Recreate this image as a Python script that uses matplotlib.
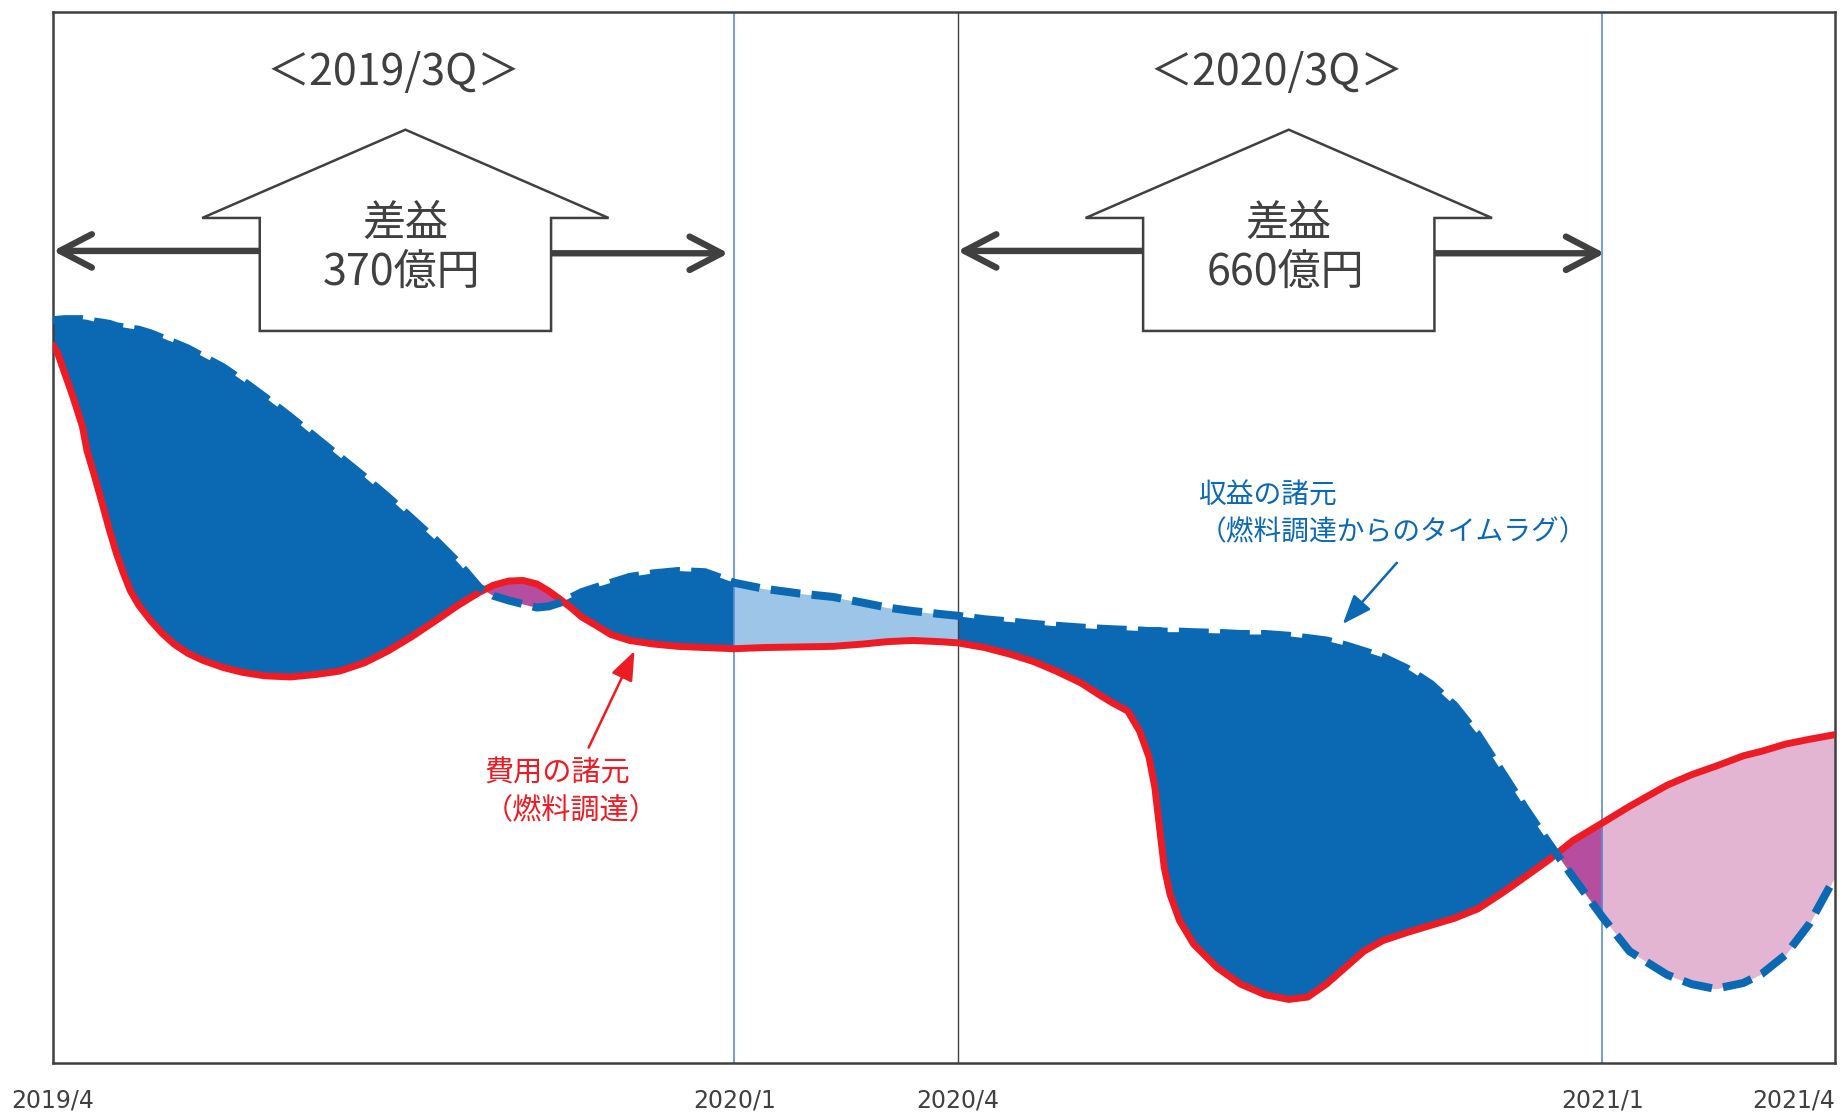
import numpy as np
import matplotlib
matplotlib.use("Agg")
import matplotlib.pyplot as plt
from matplotlib.patches import Polygon

plt.rcParams['font.family'] = ['Noto Sans CJK JP', 'DejaVu Sans']

# horizontal position along the period (left edge = 2019/4, right edge = 2021/4)
pos = np.array([45, 49, 55, 62, 70, 74, 80, 87, 93, 99, 105, 111, 118, 128, 138, 148, 160,
                173, 190, 206, 225, 247, 268, 289, 310, 330, 350, 371, 390, 408, 420,
                433, 445, 457, 467, 478, 487, 495, 507, 520, 536, 556, 577, 600, 625,
                650, 680, 709, 735, 755, 777, 800, 815, 838, 861, 880, 899, 920, 937,
                947, 960, 970, 978, 983, 987, 991, 996, 1004, 1016, 1036, 1056, 1077,
                1097, 1113, 1129, 1145, 1161, 1177, 1198, 1218, 1238, 1258, 1278, 1298,
                1319, 1339, 1364, 1387, 1419, 1440, 1460, 1484, 1500, 1520, 1540, 1562])

# cost index (fuel procurement) - red solid
cost = np.array([610, 603, 586, 566, 541, 520, 500, 475, 453, 433, 416, 401, 389, 376, 365,
                 356, 348, 342, 336, 332, 329, 328, 330, 333, 340, 350, 362, 376, 389, 400,
                 406, 409.5, 410, 407, 401, 393, 386, 379, 372, 364, 359, 356, 354, 353,
                 352, 353, 353.5, 354, 356, 358, 359, 358, 357, 353, 347, 341, 333, 323,
                 312, 306, 299, 282, 260, 234, 200, 166, 143, 121, 101, 81, 67, 58, 54,
                 56, 67, 81, 95, 104, 111, 117, 123, 131, 144, 158, 173, 189, 204, 218,
                 236, 245, 252, 261, 265, 271, 275, 279])

# revenue index (time lag from fuel procurement) - blue dashed
revenue = np.array([631, 631.5, 632, 632, 632, 631.5, 630, 629, 628, 626, 625, 624, 623, 620,
                    616, 612, 607, 600, 591, 580, 566, 549, 532, 515, 498, 481, 463, 444,
                    425, 404, 397, 393, 390, 387, 388, 391.5, 396, 400, 404, 408, 413, 416,
                    418, 417, 408, 403, 399, 396, 391, 387, 384, 381.5, 380, 377, 375, 373,
                    371.5, 370, 369, 368.5, 368, 367.5, 367, 367, 367, 366.5, 366.5, 366.5,
                    366, 365.5, 364.5, 364.5, 363, 361, 359, 355, 350, 345, 335, 322, 304,
                    279, 248, 217, 186, 158, 124, 95, 75, 67, 63, 68, 76, 92, 118, 158])

tick_pos = [45, 625, 815, 1364, 1562]
tick_labels = ['2019/4', '2020/1', '2020/4', '2021/1', '2021/4']

quarters = ['＜2019/3Q＞', '＜2020/3Q＞']
profits = ['370億円', '660億円']

dark = '#404040'
blue = '#0B69B4'
red = '#ED1C24'
purple = '#B54E9F'
lightblue = '#9DC5E8'
pink = '#E3B5D2'

fig = plt.figure(figsize=(18.44, 11.13), dpi=100)
ax = fig.add_axes([53 / 1844, 50 / 1113, 1782 / 1844, 1051 / 1113])
ax.set_xlim(45, 1562)
ax.set_ylim(0, 893)


def fill_region(a, b, up_color, down_color):
    sl = (pos >= a) & (pos <= b)
    x, r, c = pos[sl], revenue[sl], cost[sl]
    ax.fill_between(x, r, c, where=r >= c, interpolate=True, color=up_color, lw=0, zorder=1)
    ax.fill_between(x, r, c, where=r < c, interpolate=True, color=down_color, lw=0, zorder=1)


fill_region(tick_pos[0], tick_pos[1], blue, purple)
fill_region(tick_pos[1], tick_pos[2], lightblue, lightblue)
fill_region(tick_pos[2], tick_pos[3], blue, purple)
fill_region(tick_pos[3], tick_pos[4], pink, pink)

ax.axvline(tick_pos[1], color='#5B8ED0', lw=1.2, zorder=2)
ax.axvline(tick_pos[2], color=dark, lw=1.0, zorder=2)
ax.axvline(tick_pos[3], color='#5B8ED0', lw=1.2, zorder=2)

ax.plot(pos, cost, color=red, lw=5, solid_capstyle='round', solid_joinstyle='round',
        zorder=3)
ax.plot(pos, revenue, color=blue, lw=5.8, linestyle=(0, (3.7, 1.4)), zorder=4)


def up_arrow(cx, head_half, shaft_half, apex, shoulder, bottom):
    pts = [(cx, apex), (cx + head_half, shoulder), (cx + shaft_half, shoulder),
           (cx + shaft_half, bottom), (cx - shaft_half, bottom),
           (cx - shaft_half, shoulder), (cx - head_half, shoulder)]
    ax.add_patch(Polygon(pts, closed=True, facecolor='white', edgecolor=dark,
                         lw=1.8, zorder=6))


def side_arrow(x0, x1, y):
    ax.annotate('', xy=(x1, y), xytext=(x0, y),
                arrowprops=dict(arrowstyle='->, head_length=1.15, head_width=0.6',
                                mutation_scale=20, lw=4.6, color=dark,
                                shrinkA=0, shrinkB=0, capstyle='round',
                                joinstyle='round'), zorder=5)


blocks = [(345, 45, 220, 467, 620), (1097, 815, 973, 1221, 1366)]
for i, (cx, lt, sl_, sr, rt) in enumerate(blocks):
    side_arrow(sl_, lt, 690)
    side_arrow(sr, rt, 688)
    up_arrow(cx, 173, 124, 793, 718, 622)
    ax.text(cx - 10, 841, quarters[i], ha='center', va='center', fontsize=31,
            color=dark, zorder=7)
    ax.text(cx, 713, '差益', ha='center', va='center', fontsize=31, color=dark, zorder=7)
    ax.text(cx - 3, 671, profits[i], ha='center', va='center', fontsize=31,
            color=dark, zorder=7)

# labels for the two lines
ax.text(1020, 482, '収益の諸元', ha='left', va='center', fontsize=20, color=blue)
ax.text(1020, 451, '（燃料調達からのタイムラグ）', ha='left', va='center', fontsize=20,
        color=blue)
ax.annotate('', xy=(1143, 373), xytext=(1189, 425),
            arrowprops=dict(arrowstyle='-|>, head_length=0.9, head_width=0.35',
                            mutation_scale=20, lw=1.8, color=blue,
                            shrinkA=0, shrinkB=0))

ax.text(412, 246, '費用の諸元', ha='left', va='center', fontsize=21, color=red)
ax.text(412, 214, '（燃料調達）', ha='left', va='center', fontsize=21, color=red)
ax.annotate('', xy=(540, 350), xytext=(501, 268),
            arrowprops=dict(arrowstyle='-|>, head_length=0.9, head_width=0.35',
                            mutation_scale=20, lw=1.8, color=red,
                            shrinkA=0, shrinkB=0))

ax.set_yticks([])
ax.set_xticks(tick_pos, tick_labels)
ax.tick_params(axis='x', length=0, pad=18, labelsize=17, labelcolor=dark)
for lab in ax.get_xticklabels():
    lab.set_family('DejaVu Sans')
ax.get_xticklabels()[-1].set_ha('right')

for sp in ax.spines.values():
    sp.set_color(dark)
    sp.set_linewidth(1.8)

fig.savefig('out.png', dpi=100)
